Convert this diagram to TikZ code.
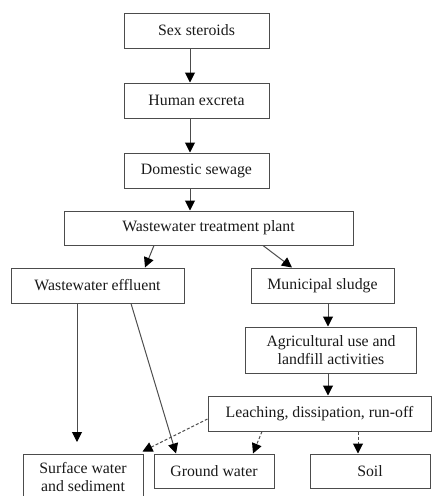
\documentclass[tikz,border=0pt]{standalone}
\usepackage{fontspec}
\setmainfont{Liberation Serif}
\usetikzlibrary{arrows.meta,calc}
\begin{document}
\begin{tikzpicture}[x=1pt,y=-1pt,
  box/.style={draw=black!70,line width=1pt,inner sep=0pt,align=center,
    text=black!90,font=\fontsize{15.8}{17.5}\selectfont},
  arr/.style={draw=black!70,line width=1pt,-{Triangle[width=10pt,length=10pt,black]}},
  darr/.style={arr,dash pattern=on 3pt off 2pt}]
\useasboundingbox (0,0) rectangle (432,496);
\node[box,minimum width=145,minimum height=35] (sex) at (196.5,30.5) {Sex steroids};
\node[box,minimum width=145,minimum height=35] (human) at (196.5,100.5) {Human excreta};
\node[box,minimum width=145,minimum height=35] (dom) at (196.5,170.5) {Domestic sewage};
\node[box,minimum width=289,minimum height=34] (wtp) at (208.5,228) {Wastewater treatment plant};
\node[box,minimum width=173,minimum height=35] (eff) at (97.5,285.5) {Wastewater effluent};
\node[box,minimum width=143,minimum height=35] (sludge) at (322.5,285.5) {Municipal sludge};
\node[box,minimum width=171,minimum height=46] (agri) at (331,350) {Agricultural use and\\landfill activities};
\node[box,minimum width=223,minimum height=35] (leach) at (319.5,413.5) {Leaching, dissipation, run-off};
\node[box,minimum width=120,minimum height=46] (surf) at (83,477) {Surface water\\and sediment};
\node[box,minimum width=120,minimum height=34] (ground) at (214,471) {Ground water};
\node[box,minimum width=120,minimum height=34] (soil) at (370,471) {Soil};
\coordinate (ax) at (190,0);
\coordinate (bx) at (328,0);
\coordinate (effend) at (77,442);
\draw[arr] (sex.south -| ax) -- (human.north -| ax);
\draw[arr] (human.south -| ax) -- (dom.north -| ax);
\draw[arr] (dom.south -| ax) -- (wtp.north -| ax);
\draw[arr] ($(wtp.south -| 154,0)$) -- ($(eff.north -| 145,0)$);
\draw[arr] ($(wtp.south -| 263,0)$) -- ($(sludge.north -| 292,0)$);
\draw[arr] (sludge.south -| bx) -- (agri.north -| bx);
\draw[arr] (agri.south -| bx) -- (leach.north -| bx);
\draw[arr] (eff.south -| effend) -- (effend);
\draw[arr] ($(eff.south -| 131,0)$) -- ($(ground.north -| 176,0)$);
\draw[darr] ($(leach.west)+(0,5.5)$) -- ($(surf.north east)+(-1,-2)$);
\draw[darr] ($(leach.south -| 262,0)$) -- ($(ground.north -| 253,0)$);
\draw[darr] ($(leach.south -| 358,0)$) -- ($(soil.north -| 358,0)$);
\end{tikzpicture}
\end{document}
